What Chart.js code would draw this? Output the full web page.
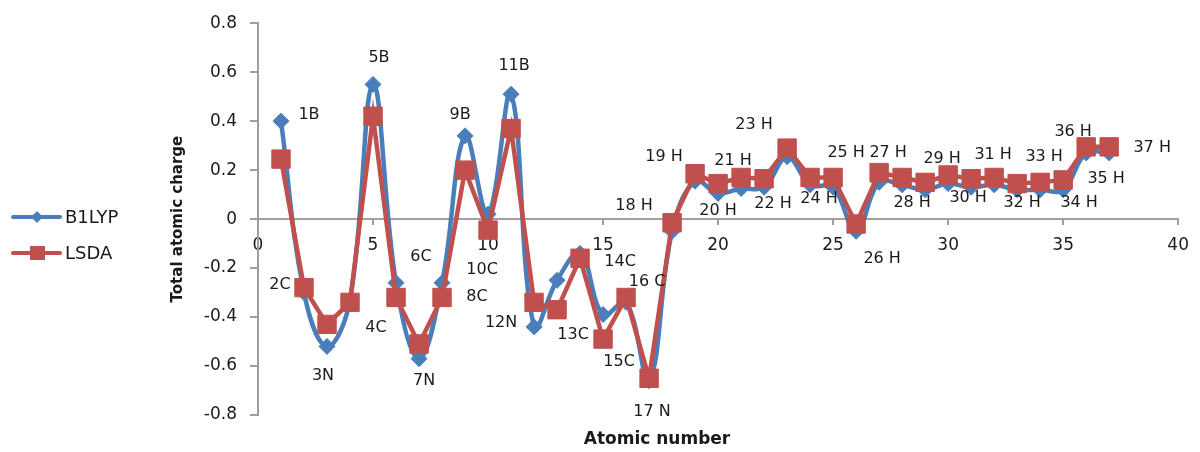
<!DOCTYPE html>
<html>
<head>
<meta charset="utf-8">
<script src="https://cdn.jsdelivr.net/npm/chart.js@4.4.0/dist/chart.umd.min.js"></script>
<style>
  html, body { margin: 0; padding: 0; background: #fff; }
</style>
</head>
<body>
<canvas id="chart" width="1200" height="452"></canvas>
<script>
// atomic numbers and total atomic charges
const atomNumbers = [1, 2, 3, 4, 5, 6, 7, 8, 9, 10, 11, 12, 13, 14, 15, 16, 17, 18, 19, 20,
    21, 22, 23, 24, 25, 26, 27, 28, 29, 30, 31, 32, 33, 34, 35, 36, 37];
const b1lypCharge = [0.40, -0.30, -0.52, -0.33, 0.55, -0.26, -0.57, -0.26, 0.34, 0.02,
    0.51, -0.44, -0.25, -0.14, -0.39, -0.34, -0.66, -0.05, 0.155, 0.105,
    0.125, 0.13, 0.255, 0.14, 0.13, -0.05, 0.15, 0.14, 0.12, 0.145,
    0.13, 0.14, 0.12, 0.12, 0.12, 0.27, 0.27];
const lsdaCharge = [0.245, -0.28, -0.43, -0.34, 0.42, -0.32, -0.51, -0.32, 0.20, -0.045,
    0.37, -0.34, -0.37, -0.16, -0.49, -0.32, -0.65, -0.015, 0.185, 0.145,
    0.17, 0.165, 0.29, 0.17, 0.17, -0.02, 0.19, 0.17, 0.15, 0.18,
    0.165, 0.17, 0.145, 0.15, 0.16, 0.295, 0.295];
const atomLabels = ['1B', '2C', '3N', '4C', '5B', '6C', '7N', '8C', '9B', '10C',
    '11B', '12N', '13C', '14C', '15C', '16 C', '17 N', '18 H', '19 H', '20 H',
    '21 H', '22 H', '23 H', '24 H', '25 H', '26 H', '27 H', '28 H', '29 H', '30 H',
    '31 H', '32 H', '33 H', '34 H', '35 H', '36 H', '37 H'];
const seriesNames = ['B1LYP', 'LSDA'];
const xTickRange = [0, 40, 5];
const yTickRange = [-0.8, 0.8, 0.2];

// where each data label sits, relative to its B1LYP point (px)
const labelShift = [[28, -6], [-24, -8], [-4, 29], [26, 28], [6, -27], [25, -26], [5, 22], [35, 14],
    [-5, -21], [-6, 56], [3, -28], [-33, -4], [16, 55], [40, 8], [16, 47], [21, -21], [3, 31],
    [-38, -26], [-31, -24], [0, 17], [-8, -28], [9, 17], [-33, -32], [9, 14], [13, -34], [26, 27],
    [9, -30], [10, 18], [17, -31], [20, 14], [22, -32], [28, 18], [27, -33], [39, 13], [43, -11],
    [-13, -21], [43, -5]];

const BLUE = '#4a7ebb';
const RED = '#c0504d';
const AXIS = '#a0a0a0';
const TEXT = '#1a1a1a';
const FONT = '"DejaVu Sans", sans-serif';

const toPoints = vals => atomNumbers.map((n, i) => ({ x: n, y: vals[i] }));

// data labels next to the points
const pointLabels = {
    id: 'pointLabels',
    afterDatasetsDraw(chart) {
        const meta = chart.getDatasetMeta(0);
        const ctx = chart.ctx;
        ctx.save();
        ctx.font = '16px ' + FONT;
        ctx.fillStyle = TEXT;
        ctx.textAlign = 'center';
        ctx.textBaseline = 'middle';
        meta.data.forEach((pt, i) => {
            ctx.fillText(atomLabels[i], pt.x + labelShift[i][0], pt.y + labelShift[i][1]);
        });
        ctx.restore();
    }
};

// x title and legend on the left
const extras = {
    id: 'extras',
    afterDraw(chart) {
        const ctx = chart.ctx;
        ctx.save();
        ctx.fillStyle = TEXT;
        ctx.font = 'bold 17px ' + FONT;
        ctx.textAlign = 'center';
        ctx.textBaseline = 'middle';
        ctx.fillText('Atomic number', 657, 440);

        // legend
        const rows = [[BLUE, 217, 'diamond'], [RED, 253, 'square']];
        ctx.font = '18px ' + FONT;
        ctx.textAlign = 'left';
        rows.forEach((r, i) => {
            ctx.strokeStyle = r[0];
            ctx.fillStyle = r[0];
            ctx.lineWidth = 4;
            ctx.lineCap = 'round';
            ctx.beginPath();
            ctx.moveTo(13, r[1]);
            ctx.lineTo(60, r[1]);
            ctx.stroke();
            ctx.beginPath();
            if (r[2] === 'diamond') {
                ctx.moveTo(37, r[1] - 6);
                ctx.lineTo(43, r[1]);
                ctx.lineTo(37, r[1] + 6);
                ctx.lineTo(31, r[1]);
                ctx.closePath();
                ctx.fill();
            } else {
                ctx.fillRect(30, r[1] - 7, 15, 14);
            }
            ctx.fillStyle = TEXT;
            ctx.fillText(seriesNames[i], 65, r[1] + 1);
        });
        ctx.restore();
    }
};

new Chart(document.getElementById('chart'), {
    type: 'line',
    data: {
        datasets: [
            {
                label: seriesNames[0],
                data: toPoints(b1lypCharge),
                borderColor: BLUE,
                backgroundColor: BLUE,
                borderWidth: 4.5,
                tension: 0.4,
                pointStyle: 'rectRot',
                pointRadius: 8,
                pointBorderWidth: 1,
                order: 1
            },
            {
                label: seriesNames[1],
                data: toPoints(lsdaCharge),
                borderColor: RED,
                backgroundColor: RED,
                borderWidth: 4.5,
                tension: 0,
                pointStyle: 'rect',
                pointRadius: 13,
                pointBorderWidth: 1,
                order: 0
            }
        ]
    },
    options: {
        responsive: false,
        animation: false,
        layout: { padding: { left: 150, right: 15, top: 23, bottom: 37 } },
        plugins: {
            legend: { display: false },
            tooltip: { enabled: false }
        },
        scales: {
            x: {
                type: 'linear',
                position: { y: 0 },
                min: xTickRange[0],
                max: xTickRange[1],
                ticks: {
                    stepSize: xTickRange[2],
                    color: TEXT,
                    font: { family: FONT, size: 17 },
                    padding: 11
                },
                grid: { drawOnChartArea: false, tickLength: 5, color: AXIS, lineWidth: 2 },
                border: { color: AXIS, width: 2 }
            },
            y: {
                min: yTickRange[0],
                max: yTickRange[1],
                afterFit(scale) { scale.width = 108; },
                ticks: {
                    stepSize: yTickRange[2],
                    color: TEXT,
                    font: { family: FONT, size: 17 },
                    padding: 13,
                    callback: v => String(Number(v.toFixed(1)))
                },
                grid: { drawOnChartArea: false, tickLength: 8, color: AXIS, lineWidth: 2 },
                border: { color: AXIS, width: 2 },
                title: {
                    display: true,
                    text: 'Total atomic charge',
                    color: TEXT,
                    font: { family: FONT, size: 15, weight: 'bold' },
                    padding: { top: 19, bottom: 0 }
                }
            }
        }
    },
    plugins: [pointLabels, extras]
});
</script>
</body>
</html>
